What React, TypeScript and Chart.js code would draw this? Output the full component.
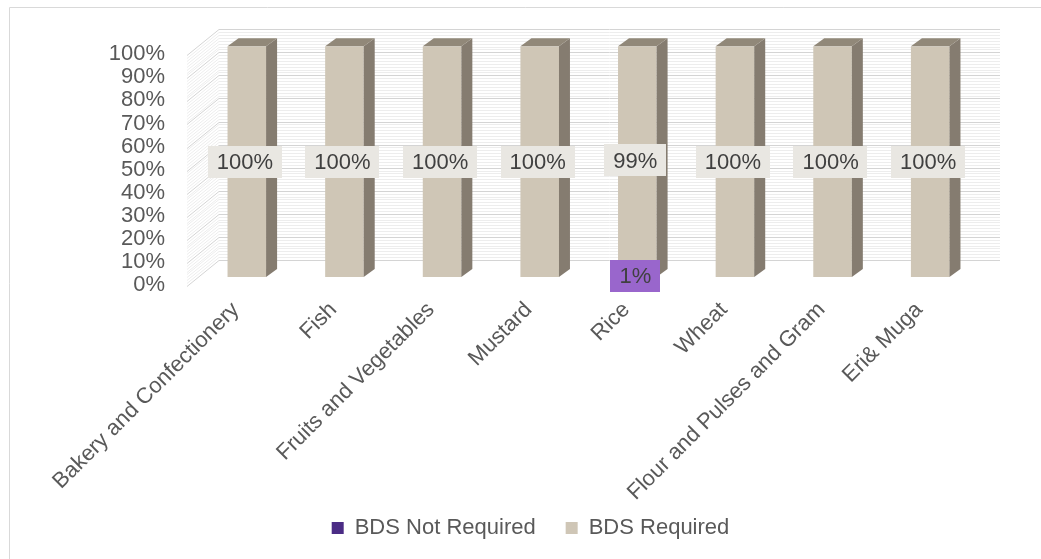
import React, { useEffect, useRef } from 'react';
import { Chart, registerables } from 'chart.js';

Chart.register(...registerables);

const categories = [
  'Bakery and Confectionery',
  'Fish',
  'Fruits and Vegetables',
  'Mustard',
  'Rice',
  'Wheat',
  'Flour and Pulses and Gram',
  'Eri& Muga',
];
const seriesNames = ['BDS Not Required', 'BDS Required'];
const notRequired = [0, 0, 0, 0, 1, 0, 0, 0];
const required = [100, 100, 100, 100, 99, 100, 100, 100];
const yMin = 0;
const yMax = 100;
const yStep = 10;

const FONT = "'Liberation Sans', Arial, sans-serif";
const TEXT = '#595959';
const FRONT = ['#4B2C85', '#CFC6B6'];
const LABEL_BG = ['#9966CC', '#E9E7E2'];
const SIDE = '#857C70';
const TOP = '#918879';

const wallPlugin = {
  id: 'walls3d',
  beforeDraw(chart: any) {
    const { ctx, chartArea } = chart;
    const y = chart.scales.y;
    ctx.save();
    ctx.lineWidth = 1;
    ctx.strokeStyle = '#d9d9d9';
    ctx.beginPath();
    ctx.moveTo(9.5, 559);
    ctx.lineTo(9.5, 7.5);
    ctx.lineTo(1041, 7.5);
    ctx.stroke();
    const backDx = 21, backDy = -17, frontDx = -11, frontDy = 9;
    const bl = chartArea.left + backDx;
    const br = chartArea.right + backDx;
    const fl = chartArea.left + frontDx;
    const minor = yStep / 8;
    for (let k = 0; k <= (yMax - yMin) / minor; k++) {
      const v = yMin + k * minor;
      const isMajor = k % 8 === 0;
      const py = y.getPixelForValue(v);
      ctx.strokeStyle = isMajor ? '#d4d4d4' : '#ededed';
      ctx.beginPath();
      ctx.moveTo(fl, Math.round(py + frontDy) + 0.5);
      ctx.lineTo(bl, Math.round(py + backDy) + 0.5);
      ctx.lineTo(br, Math.round(py + backDy) + 0.5);
      ctx.stroke();
    }
    ctx.restore();
  },
  afterDatasetsDraw(chart: any) {
    const { ctx } = chart;
    const n = chart.data.labels.length;
    const metas = chart.data.datasets.map((_: any, i: number) => chart.getDatasetMeta(i));
    const dx = 11, dy = -8;
    ctx.save();
    for (let i = 0; i < n; i++) {
      let top = Infinity, bottom = -Infinity, left = 0, right = 0;
      metas.forEach((m: any) => {
        const el = m.data[i];
        const p = el.getProps(['x', 'y', 'base', 'width'], true);
        top = Math.min(top, p.y, p.base);
        bottom = Math.max(bottom, p.y, p.base);
        left = p.x - p.width / 2;
        right = p.x + p.width / 2;
      });
      ctx.fillStyle = SIDE;
      ctx.beginPath();
      ctx.moveTo(right, top);
      ctx.lineTo(right + dx, top + dy);
      ctx.lineTo(right + dx, bottom + dy);
      ctx.lineTo(right, bottom);
      ctx.closePath();
      ctx.fill();
      ctx.fillStyle = TOP;
      ctx.beginPath();
      ctx.moveTo(left, top);
      ctx.lineTo(left + dx, top + dy);
      ctx.lineTo(right + dx, top + dy);
      ctx.lineTo(right, top);
      ctx.closePath();
      ctx.fill();
    }
    // data labels
    ctx.font = '22px ' + FONT;
    ctx.textAlign = 'center';
    ctx.textBaseline = 'middle';
    chart.data.datasets.forEach((ds: any, di: number) => {
      const meta = chart.getDatasetMeta(di);
      meta.data.forEach((el: any, i: number) => {
        const v = ds.data[i];
        if (!v) return;
        const p = el.getProps(['x', 'y', 'base'], true);
        const cx = p.x - 2;
        const cy = (p.y + p.base) / 2;
        const text = v + '%';
        const w = ctx.measureText(text).width + 18;
        const h = 32;
        ctx.fillStyle = LABEL_BG[di];
        ctx.fillRect(Math.round(cx - w / 2), Math.round(cy - h / 2), Math.round(w), h);
        ctx.fillStyle = '#404040';
        ctx.fillText(text, cx, cy + 1);
      });
    });
    ctx.restore();
  },
};

export default function App() {
  const ref = useRef<HTMLCanvasElement>(null);
  useEffect(() => {
    if (!ref.current) return;
    Chart.defaults.font.family = FONT;
    Chart.defaults.color = TEXT;
    const chart = new Chart(ref.current, {
      type: 'bar',
      data: {
        labels: categories,
        datasets: [
          { label: seriesNames[0], data: notRequired, backgroundColor: FRONT[0], borderWidth: 0 },
          { label: seriesNames[1], data: required, backgroundColor: FRONT[1], borderWidth: 0 },
        ],
      },
      options: {
        responsive: false,
        animation: false,
        events: [],
        layout: { padding: { left: 20, top: 44, right: 0, bottom: 10 } },
        datasets: { bar: { barPercentage: 0.395, categoryPercentage: 1 } },
        plugins: {
          tooltip: { enabled: false },
          legend: {
            position: 'bottom',
            labels: {
              boxWidth: 12,
              boxHeight: 12,
              padding: 30,
              color: TEXT,
              font: { size: 22, family: FONT },
            },
          },
        },
        scales: {
          x: {
            stacked: true,
            grid: { display: false, drawTicks: false },
            border: { display: false },
            ticks: {
              autoSkip: false,
              maxRotation: 45,
              minRotation: 45,
              padding: 20,
              labelOffset: -11,
              color: TEXT,
              font: { size: 22, family: FONT },
            },
            afterFit: (s: any) => {
              s.height = 210;
              s._computeLabelArea = () => null;
            },
          },
          y: {
            stacked: true,
            min: yMin,
            max: yMax,
            grid: { display: false, drawTicks: false },
            border: { display: false },
            ticks: {
              stepSize: yStep,
              autoSkip: false,
              padding: 33,
              labelOffset: 8,
              color: TEXT,
              font: { size: 22, family: FONT },
              callback: (v: any) => v + '%',
            },
            afterFit: (s: any) => { s.width = 178; },
          },
          y2: {
            type: 'linear',
            position: 'right',
            display: true,
            ticks: { display: false },
            grid: { display: false, drawTicks: false },
            border: { display: false },
            afterFit: (s: any) => { s.width = 62; },
          },
        },
      } as any,
      plugins: [wallPlugin],
    });
    return () => chart.destroy();
  }, []);
  return (
    <div style={{ position: 'fixed', left: 0, top: 0, width: 1041, height: 559 }}>
      <canvas ref={ref} width={1041} height={559} style={{ display: 'block' }} />
    </div>
  );
}
